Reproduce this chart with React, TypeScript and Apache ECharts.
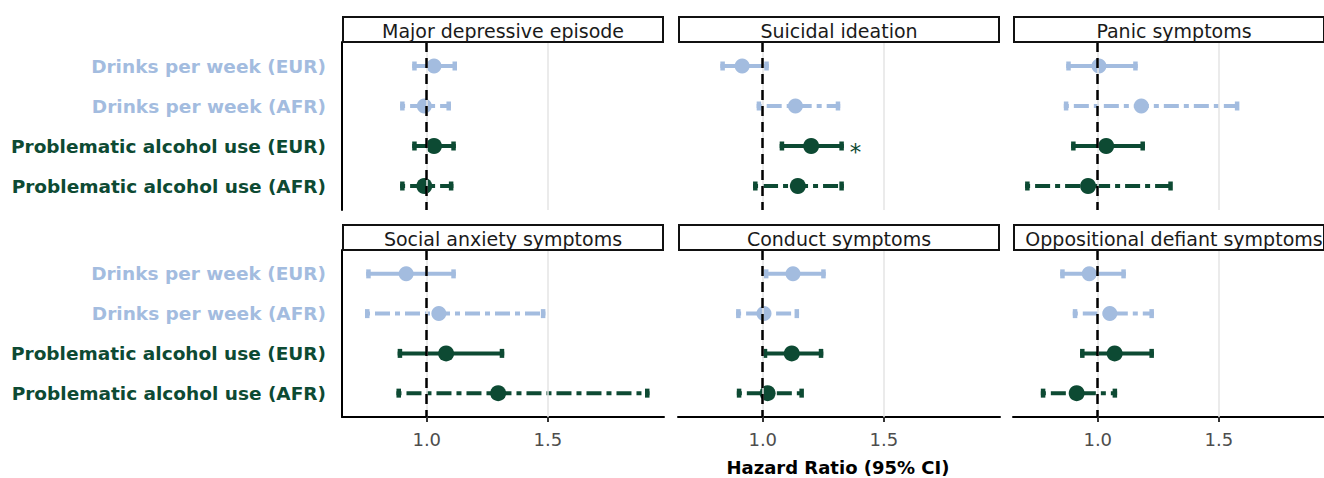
import React, { useEffect, useRef } from "react";
import * as echarts from "echarts";

const FONT = "DejaVu Sans";
const LIGHT = "#a3bcdf";
const DARK = "#0d4a33";

const categories = [
  "Drinks per week (EUR)",
  "Drinks per week (AFR)",
  "Problematic alcohol use (EUR)",
  "Problematic alcohol use (AFR)",
];

const panelTitles = [
  "Major depressive episode",
  "Suicidal ideation",
  "Panic symptoms",
  "Social anxiety symptoms",
  "Conduct symptoms",
  "Oppositional defiant symptoms",
];

// Hazard ratios and 95% CIs (rows follow `categories`)
const hrMDE = [1.03, 0.99, 1.03, 0.99];
const loMDE = [0.94, 0.89, 0.94, 0.89];
const hiMDE = [1.125, 1.1, 1.12, 1.11];

const hrSI = [0.915, 1.135, 1.2, 1.145];
const loSI = [0.825, 0.975, 1.07, 0.96];
const hiSI = [1.025, 1.32, 1.335, 1.335];

const hrPanic = [1.005, 1.18, 1.035, 0.96];
const loPanic = [0.87, 0.86, 0.89, 0.7];
const hiPanic = [1.165, 1.585, 1.195, 1.31];

const hrSocial = [0.915, 1.05, 1.08, 1.295];
const loSocial = [0.75, 0.745, 0.88, 0.875];
const hiSocial = [1.12, 1.49, 1.32, 1.92];

const hrConduct = [1.125, 1.005, 1.12, 1.02];
const loConduct = [1.005, 0.89, 1.0, 0.893];
const hiConduct = [1.26, 1.15, 1.25, 1.17];

const hrODD = [0.965, 1.05, 1.07, 0.913];
const loODD = [0.845, 0.897, 0.927, 0.765];
const hiODD = [1.116, 1.232, 1.232, 1.08];

const noSig = [0, 0, 0, 0];
const sigSI = [0, 0, 1, 0];

const xTicks = [1.0, 1.5];
const xMin = 0.65;
const xMax = 1.98;
const refLine = 1.0;

const panels = [
  { title: panelTitles[0], hr: hrMDE, lo: loMDE, hi: hiMDE, sig: noSig },
  { title: panelTitles[1], hr: hrSI, lo: loSI, hi: hiSI, sig: sigSI },
  { title: panelTitles[2], hr: hrPanic, lo: loPanic, hi: hiPanic, sig: noSig },
  { title: panelTitles[3], hr: hrSocial, lo: loSocial, hi: hiSocial, sig: noSig },
  { title: panelTitles[4], hr: hrConduct, lo: loConduct, hi: hiConduct, sig: noSig },
  { title: panelTitles[5], hr: hrODD, lo: loODD, hi: hiODD, sig: noSig },
];

const colLeft = [342, 678, 1013];
const colWidth = 322;
const rowTop = [42, 250];
const rowHeight = [168, 167];
const stripTop = [17, 225];
const stripHeight = 25;

export default function App() {
  const ref = useRef<HTMLDivElement>(null);

  useEffect(() => {
    document.body.style.margin = "0";
    const chart = echarts.init(ref.current as HTMLDivElement, null, { renderer: "svg" });

    const grids: any[] = [];
    const xAxes: any[] = [];
    const yAxes: any[] = [];
    const series: any[] = [];
    const graphics: any[] = [];

    panels.forEach((p, i) => {
      const col = i % 3;
      const row = Math.floor(i / 3);
      grids.push({
        left: colLeft[col],
        top: rowTop[row],
        width: colWidth,
        height: rowHeight[row],
        containLabel: false,
        outerBoundsMode: "none",
      });
      xAxes.push({
        type: "value",
        gridIndex: i,
        min: xMin,
        max: xMax,
        show: row === 1,
        axisLine: { show: true, onZero: false, lineStyle: { color: "#000", width: 2 } },
        axisTick: { show: true, length: 5, customValues: xTicks, lineStyle: { color: "#333", width: 2 } },
        axisLabel: {
          customValues: xTicks,
          formatter: (v: number) => v.toFixed(1),
          color: "#4d4d4d",
          fontSize: 18,
          fontFamily: FONT,
          margin: 13,
        },
        splitLine: { show: false },
      });
      yAxes.push({
        type: "value",
        gridIndex: i,
        inverse: true,
        min: 0.4,
        max: 4.6,
        show: col === 0,
        axisLine: { show: true, onZero: false, lineStyle: { color: "#000", width: 2 } },
        axisTick: { show: false },
        splitLine: { show: false },
        axisLabel: {
          customValues: [1, 2, 3, 4],
          margin: 16,
          formatter: (v: number) => {
            const k = Math.round(v) - 1;
            return `{${k < 2 ? "l" : "d"}|${categories[k]}}`;
          },
          rich: {
            l: { color: LIGHT, fontWeight: "bold", fontSize: 18.5, fontFamily: FONT },
            d: { color: DARK, fontWeight: "bold", fontSize: 18.5, fontFamily: FONT },
          },
        },
      });

      // grid lines
      series.push({
        type: "line",
        xAxisIndex: i,
        yAxisIndex: i,
        data: [],
        z: 1,
        silent: true,
        markLine: {
          silent: true,
          symbol: ["none", "none"],
          label: { show: false },
          data: xTicks.map((t) => ({
            xAxis: t,
            lineStyle: { color: "#e4e4e4", width: 1.5, type: "solid" },
          })),
        },
      });

      // error bars
      series.push({
        type: "custom",
        xAxisIndex: i,
        yAxisIndex: i,
        z: 3,
        silent: true,
        encode: { x: [0, 1], y: 2 },
        data: p.hr.map((_, k) => [p.lo[k], p.hi[k], k + 1, k, p.sig[k]]),
        renderItem: (params: any, api: any) => {
          const lo = api.value(0);
          const hi = api.value(1);
          const y = api.value(2);
          const k = api.value(3);
          const sig = api.value(4);
          const a = api.coord([lo, y]);
          const b = api.coord([hi, y]);
          const color = k < 2 ? LIGHT : DARK;
          const dashed = k % 2 === 1;
          const children: any[] = [
            {
              type: "line",
              shape: { x1: a[0], y1: a[1], x2: b[0], y2: b[1] },
              style: { stroke: color, lineWidth: 4, lineDash: dashed ? [5, 5, 15, 5] : null },
            },
            { type: "rect", shape: { x: a[0], y: a[1] - 4.5, width: 4.5, height: 9 }, style: { fill: color } },
            { type: "rect", shape: { x: b[0] - 4.5, y: b[1] - 4.5, width: 4.5, height: 9 }, style: { fill: color } },
          ];
          if (sig) {
            children.push({
              type: "text",
              x: b[0] + 6,
              y: b[1] + 6,
              style: {
                text: "*",
                fill: DARK,
                fontSize: 23,
                fontFamily: FONT,
                align: "left",
                verticalAlign: "middle",
              },
            });
          }
          return { type: "group", children };
        },
      });

      // points
      series.push({
        type: "scatter",
        xAxisIndex: i,
        yAxisIndex: i,
        z: 4,
        silent: true,
        symbol: "circle",
        data: p.hr.map((h, k) => ({
          value: [h, k + 1],
          symbolSize: k < 2 ? 15 : 16,
          itemStyle: { color: k < 2 ? LIGHT : DARK, opacity: 1 },
        })),
      });

      // reference line at HR = 1
      series.push({
        type: "line",
        xAxisIndex: i,
        yAxisIndex: i,
        data: [],
        z: 5,
        silent: true,
        markLine: {
          silent: true,
          symbol: ["none", "none"],
          label: { show: false },
          data: [{ xAxis: refLine, lineStyle: { color: "#000", width: 2.5, type: [10, 6] } }],
        },
      });

      // strip
      const sw = col === 2 ? 310 : 320;
      graphics.push({
        type: "rect",
        shape: { x: colLeft[col] + 1, y: stripTop[row], width: sw, height: stripHeight },
        style: { fill: "#fff", stroke: "#111", lineWidth: 2 },
        z: 10,
      });
      graphics.push({
        type: "text",
        x: colLeft[col] + colWidth / 2,
        y: stripTop[row] + stripHeight / 2 + 1,
        style: {
          text: p.title,
          fill: "#1a1a1a",
          fontSize: 19,
          fontFamily: FONT,
          align: "center",
          verticalAlign: "middle",
        },
        z: 11,
      });
    });

    graphics.push({
      type: "text",
      x: 838,
      y: 467,
      style: {
        text: "Hazard Ratio (95% CI)",
        fill: "#000",
        fontSize: 18,
        fontWeight: "bold",
        fontFamily: FONT,
        align: "center",
        verticalAlign: "middle",
      },
      z: 11,
    });

    chart.setOption({
      animation: false,
      backgroundColor: "#fff",
      grid: grids,
      xAxis: xAxes,
      yAxis: yAxes,
      series,
      graphic: graphics,
    });

    return () => chart.dispose();
  }, []);

  return <div ref={ref} style={{ width: 1324, height: 478 }} />;
}
